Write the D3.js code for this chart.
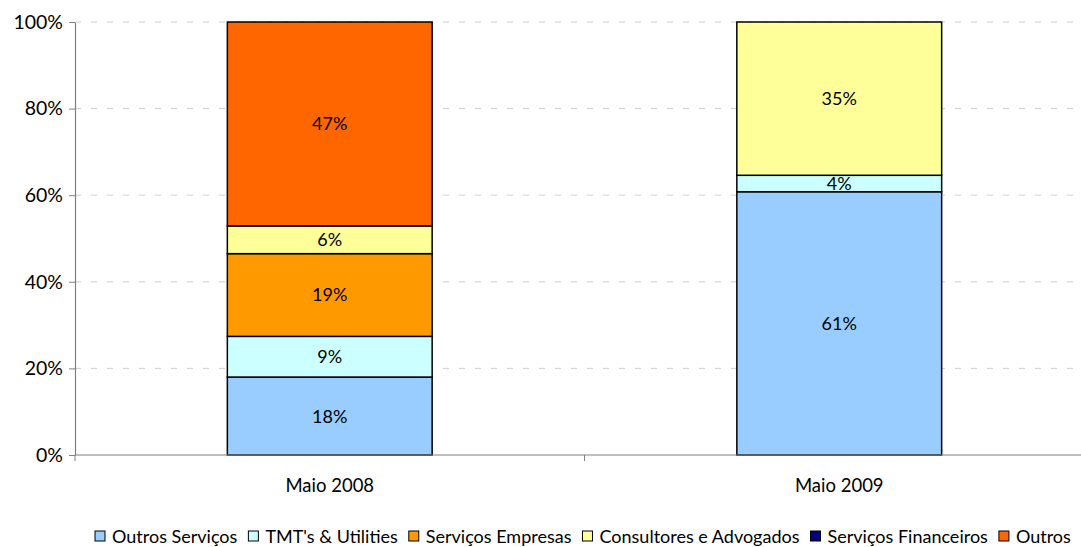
<!DOCTYPE html>
<html><head><meta charset="utf-8">
<script src="https://cdn.jsdelivr.net/npm/d3@7"></script>
<style>body{margin:0;background:#fff;} text{font-family:"Lato","Open Sans",sans-serif;}</style>
</head><body>
<svg id="c" width="1081" height="547"></svg>
<script>
const categories = ["Maio 2008", "Maio 2009"];
const seriesNames = ["Outros Serviços", "TMT's & Utilities", "Serviços Empresas", "Consultores e Advogados", "Serviços Financeiros", "Outros"];
const seriesColors = ["#99CCFF", "#CCFFFF", "#FF9900", "#FFFF99", "#000080", "#FF6600"];
const outrosServicos = [18.0, 60.8];
const tmtUtilities = [9.4, 3.8];
const servicosEmpresas = [19.1, 0];
const consultores = [6.4, 35.4];
const servicosFinanceiros = [0, 0];
const outros = [47.1, 0];
const yTicks = [0, 20, 40, 60, 80, 100];

const seriesVals = [outrosServicos, tmtUtilities, servicosEmpresas, consultores, servicosFinanceiros, outros];
const rows = categories.map((c, i) => {
  const r = {cat: c};
  seriesNames.forEach((s, j) => r[s] = seriesVals[j][i]);
  return r;
});
const stack = d3.stack().keys(seriesNames)(rows);

const svg = d3.select("#c");
const L = 75, R = 1094, T = 22, B = 455;
const x = d3.scaleBand().domain(categories).range([L, R]).paddingInner(0.598).paddingOuter(0.299);
const xOuter = d3.scaleBand().domain(categories).range([L, R]);
const y = d3.scaleLinear().domain([0, 100]).range([B, T]);

// gridlines
svg.append("g").selectAll("line").data(yTicks.filter(d => d > 0)).join("line")
  .attr("x1", L).attr("x2", 1081).attr("y1", d => y(d)).attr("y2", d => y(d))
  .attr("stroke", "#cfcfcf").attr("stroke-width", 1).attr("stroke-dasharray", "6,10");

// bars
const g = svg.append("g");
stack.forEach((layer, j) => {
  g.append("g").selectAll("rect").data(layer).join("rect")
    .attr("x", d => x(d.data.cat))
    .attr("width", x.bandwidth())
    .attr("y", d => y(d[1]))
    .attr("height", d => y(d[0]) - y(d[1]))
    .attr("fill", seriesColors[j])
    .attr("stroke", d => (d[1] - d[0]) > 0 ? "#000" : "none")
    .attr("stroke-width", 1.5);
});
// labels
stack.forEach((layer, j) => {
  g.append("g").selectAll("text").data(layer.filter(d => d[1] - d[0] > 0.5)).join("text")
    .attr("x", d => x(d.data.cat) + x.bandwidth() / 2)
    .attr("y", d => (y(d[0]) + y(d[1])) / 2)
    .attr("dy", "0.36em").attr("text-anchor", "middle")
    .attr("font-size", 18).attr("fill", "#000")
    .text(d => Math.round(d[1] - d[0]) + "%");
});

// y axis
const ya = svg.append("g").attr("transform", `translate(${L},0)`)
  .call(d3.axisLeft(y).tickValues(yTicks).tickFormat(d => d + "%").tickSize(6).tickSizeOuter(0));
ya.select(".domain").attr("stroke", "#808080").attr("stroke-width", 1.2);
ya.selectAll(".tick line").attr("stroke", "#808080");
ya.selectAll("text").attr("font-size", 19.5).attr("fill", "#000").attr("dx", "-3").style("font-family", "Lato, sans-serif");

// x axis
const xa = svg.append("g").attr("transform", `translate(0,${B})`);
xa.append("line").attr("x1", L).attr("x2", 1081).attr("y1", 0).attr("y2", 0).attr("stroke", "#808080").attr("stroke-width", 1.2);
xa.selectAll("line.t").data([L, ...categories.map(c => xOuter(c) + xOuter.bandwidth())]).join("line").attr("class", "t")
  .attr("x1", d => d).attr("x2", d => d).attr("y1", 0).attr("y2", 6).attr("stroke", "#808080");
xa.selectAll("text").data(categories).join("text")
  .attr("x", d => x(d) + x.bandwidth() / 2).attr("y", 37)
  .attr("text-anchor", "middle").attr("font-size", 18.5).attr("fill", "#000").text(d => d);

// legend
const leg = svg.append("g");
let lx = 95;
seriesNames.forEach((s, j) => {
  leg.append("rect").attr("x", lx).attr("y", 531).attr("width", 10).attr("height", 10)
    .attr("fill", seriesColors[j]).attr("stroke", "#000").attr("stroke-width", 1);
  const t = leg.append("text").attr("x", lx + 17).attr("y", 537).attr("dy", "0.36em")
    .attr("font-size", 18).attr("fill", "#000").text(s);
  lx += 17 + t.node().getComputedTextLength() + 11;
});
</script>
</body></html>
